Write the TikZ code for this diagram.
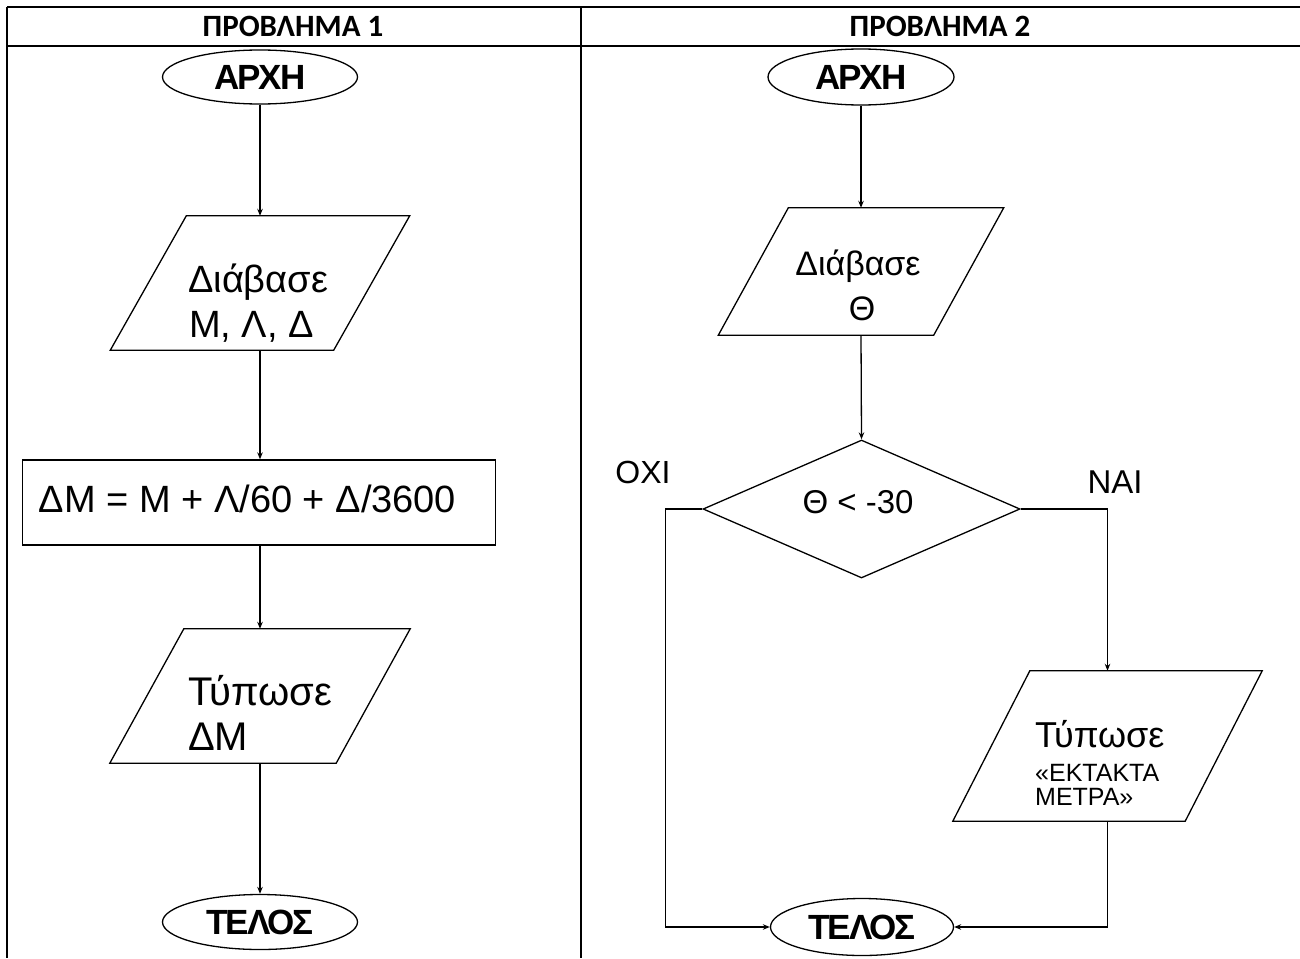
\documentclass[tikz,border=0pt]{standalone}
\usepackage{fontspec}
\setmainfont{Liberation Sans}
\newfontfamily\hdrfont{Carlito}
\newfontfamily\termfont[LetterSpace=-6]{Liberation Sans}
\usetikzlibrary{shapes.geometric,arrows.meta}
\begin{document}
\begin{tikzpicture}[x=1pt,y=-1pt,
  flow/.style={line width=1.3pt},
  arr/.style={line width=1.3pt,-{Stealth[length=7pt,width=5.5pt]}},
  rule/.style={line width=2.6pt},
  term/.style={ellipse,draw,line width=1.3pt,inner sep=0pt,font=\termfont\fontsize{35}{35}\selectfont\bfseries},
  hdr/.style={anchor=base,font=\hdrfont\fontsize{31}{31}\selectfont\bfseries},
  iobox/.style={rectangle,draw=none,inner sep=0pt},
  txt/.style={inner sep=0pt},
]
\useasboundingbox (0,0) rectangle (1300,958);
% table
\draw[rule] (7,7) -- (1300,7);
\draw[rule] (7,46) -- (1300,46);
\draw[rule] (7,7) -- (7,958);
\draw[rule] (581,7) -- (581,958);
\node[hdr] (h1) at (293,37) {ΠΡΟΒΛΗΜΑ 1};
\node[hdr] (h2) at (940,37) {ΠΡΟΒΛΗΜΑ 2};

% ---------- problem 1
\node[term,minimum width=195pt,minimum height=54pt] (s1) at (260,77) {ΑΡΧΗ};
\node[iobox,minimum width=223pt,minimum height=134pt] (p1) at (260,283) {};
\draw[flow] ([xshift=38pt]p1.north west) -- ([xshift=38pt]p1.north east) -- ([xshift=-38pt]p1.south east) -- ([xshift=-38pt]p1.south west) -- cycle;
\node[txt,anchor=base west,font=\fontsize{38}{38}\selectfont] (p1a) at (188,292) {Διάβασε};
\node[txt,anchor=base west,font=\fontsize{38}{38}\selectfont] (p1b) at (189,337) {Μ, Λ, Δ};

\node[draw,flow,minimum width=473pt,minimum height=85pt,inner sep=0pt] (r1) at (259,502.5) {};
\node[txt,anchor=base,font=\fontsize{38}{38}\selectfont] (r1t) at (247.5,512) {ΔΜ = Μ + Λ/60 + Δ/3600};

\node[iobox,minimum width=226pt,minimum height=134pt] (p2) at (260,696) {};
\draw[flow] ([xshift=37pt]p2.north west) -- ([xshift=37pt]p2.north east) -- ([xshift=-37pt]p2.south east) -- ([xshift=-37pt]p2.south west) -- cycle;
\node[txt,anchor=base west,font=\fontsize{40}{40}\selectfont] (p2a) at (188,705) {Τύπωσε};
\node[txt,anchor=base west,font=\fontsize{40}{40}\selectfont] (p2b) at (188,750) {ΔΜ};

\node[term,minimum width=195pt,minimum height=55pt] (e1) at (260,922) {ΤΕΛΟΣ};

\draw[arr] (s1.south) -- (p1.north);
\draw[arr] (p1.south) -- (p1.south |- r1.north);
\draw[arr] (p2.north |- r1.south) -- (p2.north);
\draw[arr] (p2.south) -- (e1.north);

% ---------- problem 2
\node[term,minimum width=186pt,minimum height=56pt] (s2) at (861,77) {ΑΡΧΗ};
\node[iobox,minimum width=215pt,minimum height=127pt] (p3) at (861,271.5) {};
\draw[flow] ([xshift=35pt]p3.north west) -- ([xshift=35pt]p3.north east) -- ([xshift=-35pt]p3.south east) -- ([xshift=-35pt]p3.south west) -- cycle;
\node[txt,anchor=base,font=\fontsize{34}{34}\selectfont] (p3a) at (858,275) {Διάβασε};
\node[txt,anchor=base,font=\fontsize{34}{34}\selectfont] (p3b) at (862,320) {Θ};

\node[diamond,draw,flow,minimum width=317pt,minimum height=138pt,inner sep=0pt,aspect=2.3] (d) at (861.5,509) {};
\node[txt,anchor=base,font=\fontsize{33}{33}\selectfont] (dt) at (858,513) {Θ < -30};
\node[txt,anchor=base,font=\fontsize{32}{32}\selectfont] (no) at (643,483) {ΟΧΙ};
\node[txt,anchor=base,font=\fontsize{33}{33}\selectfont] (yes) at (1115,493) {ΝΑΙ};

\node[iobox,minimum width=232pt,minimum height=150pt] (p4) at (1107.5,746) {};
\draw[flow] ([xshift=38.5pt]p4.north west) -- ([xshift=38.5pt]p4.north east) -- ([xshift=-38.5pt]p4.south east) -- ([xshift=-38.5pt]p4.south west) -- cycle;
\node[txt,anchor=base west,font=\fontsize{36}{36}\selectfont] (p4a) at (1035,747) {Τύπωσε};
\node[txt,anchor=base west,font=\fontsize{25}{25}\selectfont] (p4b) at (1035,781) {«ΕΚΤΑΚΤΑ};
\node[txt,anchor=base west,font=\fontsize{25}{25}\selectfont] (p4c) at (1035,805) {ΜΕΤΡΑ»};

\node[term,minimum width=183pt,minimum height=57pt] (e2) at (862,927) {ΤΕΛΟΣ};

\draw[arr] (s2.south) -- (s2.south |- p3.north);
\draw[arr] (p3.south -| s2.south) -- (d.north);
\draw[arr] (d.east) -| (p4.north);
\draw[arr] (d.west) -- ++(-37,0) |- (e2.west);
\draw[arr] (p4.south) |- (e2.east);
\end{tikzpicture}
\end{document}
